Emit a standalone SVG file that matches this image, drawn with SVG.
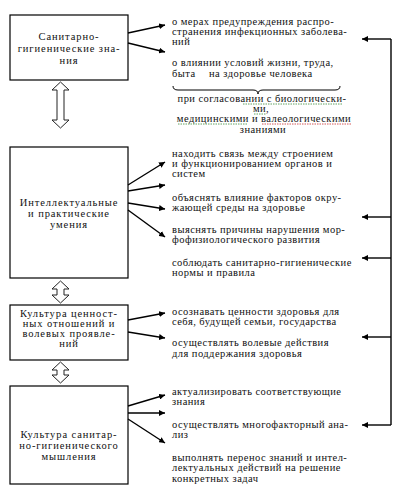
<svg xmlns="http://www.w3.org/2000/svg" width="410" height="496" viewBox="0 0 410 496">
<style>
.box{fill:#fff;stroke:#000;stroke-width:1.2}
.lbl{font-size:10.5px;fill:#111;text-anchor:middle;letter-spacing:0.9px}
.t{font-size:10.5px;fill:#111;letter-spacing:0.45px}
.tc{font-size:10.5px;fill:#111;text-anchor:middle;letter-spacing:0.45px}
.ln{fill:none;stroke:#000;stroke-width:1.4}
.dbl{fill:#fff;stroke:#222;stroke-width:1}
.brace{fill:none;stroke:#000;stroke-width:1}
.sq{fill:none;stroke-width:0.8;stroke-dasharray:1.5 1}
</style>
<defs>
<marker id="ah" viewBox="0 0 10 10" refX="10" refY="5" markerWidth="6" markerHeight="6" orient="auto" markerUnits="userSpaceOnUse">
<path d="M0,0 L10,5 L0,10 z" fill="#000"/>
</marker>
<marker id="ah2" viewBox="0 0 10 10" refX="10" refY="5" markerWidth="7" markerHeight="6" orient="auto" markerUnits="userSpaceOnUse">
<path d="M0,0 L10,5 L0,10 z" fill="#000"/>
</marker>
</defs>

<g font-family="Liberation Serif, Times New Roman, DejaVu Serif, serif">
<g id="node-sanitary-knowledge">
<rect class="box" x="10" y="15" width="118" height="65"/>
<text class="lbl" x="69" y="40">Санитарно-</text>
<text class="lbl" x="69" y="52">гигиенические  зна-</text>
<text class="lbl" x="69" y="64">ния</text>
</g>

<g id="node-intellectual-skills">
<rect class="box" x="10" y="147" width="118" height="131"/>
<text class="lbl" x="69" y="206">Интеллектуальные</text>
<text class="lbl" x="69" y="217">и практические</text>
<text class="lbl" x="69" y="228">умения</text>
</g>

<g id="node-value-culture">
<rect class="box" x="10" y="305" width="118" height="55"/>
<text class="lbl" x="69" y="317">Культура ценност-</text>
<text class="lbl" x="69" y="327">ных отношений и</text>
<text class="lbl" x="69" y="337">волевых проявле-</text>
<text class="lbl" x="69" y="347">ний</text>
</g>

<g id="node-thinking-culture">
<rect class="box" x="10" y="386" width="118" height="98"/>
<text class="lbl" x="69" y="438">Культура санитар-</text>
<text class="lbl" x="69" y="449">но-гигиенического</text>
<text class="lbl" x="69" y="460">мышления</text>
</g>

<g id="node-knowledge-items">
<text class="t" x="172" y="25">о мерах предупреждения распро-</text>
<text class="t" x="172" y="35">странения инфекционных заболева-</text>
<text class="t" x="172" y="45">ний</text>
<text class="t" x="172" y="66">о влиянии условий жизни, труда,</text>
<text class="t" x="172" y="77">быта</text>
<text class="t" x="209" y="77">на здоровье человека</text>
<path class="brace" d="M173,86 Q173,90 178,90 L253,90 Q258,90 258,94 Q258,90 263,90 L335,90 Q340,90 340,86"/>
<text class="tc" x="262" y="102">при согласовании с биологически-</text>
<text class="tc" x="261" y="112">ми,</text>
<text class="tc" x="264" y="122">медицинскими и валеологическими</text>
<text class="tc" x="263" y="133">знаниями</text>
<path class="sq" stroke="#3a8a3a" d="M243,104 L343,104 M254,114 L266,114 M178,124 L248,124"/>
<path class="sq" stroke="#c83030" d="M262,124 L352,124"/>
</g>

<g id="node-skill-items">
<text class="t" x="172" y="157">находить связь между строением</text>
<text class="t" x="172" y="167">и функционированием органов и</text>
<text class="t" x="172" y="177">систем</text>
<text class="t" x="172" y="201">объяснять влияние факторов окру-</text>
<text class="t" x="172" y="211">жающей среды на здоровье</text>
<text class="t" x="172" y="233">выяснять причины нарушения мор-</text>
<text class="t" x="172" y="243">фофизиологического развития</text>
<text class="t" x="172" y="266">соблюдать санитарно-гигиенические</text>
<text class="t" x="172" y="276">нормы и правила</text>
</g>

<g id="node-value-items">
<text class="t" x="172" y="315">осознавать ценности здоровья для</text>
<text class="t" x="172" y="325">себя, будущей семьи, государства</text>
<text class="t" x="172" y="346">осуществлять волевые  действия</text>
<text class="t" x="172" y="357">для поддержания здоровья</text>
</g>

<g id="node-thinking-items">
<text class="t" x="172" y="395">актуализировать соответствующие</text>
<text class="t" x="172" y="405">знания</text>
<text class="t" x="172" y="428">осуществлять многофакторный ана-</text>
<text class="t" x="172" y="438">лиз</text>
<text class="t" x="172" y="461">выполнять перенос знаний и интел-</text>
<text class="t" x="172" y="471">лектуальных действий на  решение</text>
<text class="t" x="172" y="482">конкретных задач</text>
</g>
</g>

<g id="connectors">
<polygon class="dbl" points="60.5,82 69,90 64,90 64,120 69,120 60.5,128 52,120 57,120 57,90 52,90"/>
<polygon class="dbl" points="60.5,281 69,289 64,289 64,295 69,295 60.5,303 52,295 57,295 57,289 52,289"/>
<polygon class="dbl" points="60.5,362 69,370 64,370 64,375 69,375 60.5,383 52,375 57,375 57,370 52,370"/>

<line class="ln" x1="128" y1="33" x2="165" y2="25" marker-end="url(#ah)"/>
<line class="ln" x1="128" y1="43" x2="165" y2="52" marker-end="url(#ah)"/>

<line class="ln" x1="128" y1="185" x2="165" y2="162" marker-end="url(#ah)"/>
<line class="ln" x1="128" y1="191" x2="165" y2="185" marker-end="url(#ah)"/>
<line class="ln" x1="128" y1="203" x2="165" y2="209" marker-end="url(#ah)"/>
<line class="ln" x1="128" y1="210" x2="165" y2="237" marker-end="url(#ah)"/>

<line class="ln" x1="128" y1="320" x2="165" y2="313" marker-end="url(#ah)"/>
<line class="ln" x1="128" y1="332" x2="165" y2="338" marker-end="url(#ah)"/>

<line class="ln" x1="128" y1="406" x2="165" y2="395" marker-end="url(#ah)"/>
<line class="ln" x1="128" y1="413" x2="165" y2="413" marker-end="url(#ah)"/>
<line class="ln" x1="128" y1="419" x2="165" y2="443" marker-end="url(#ah)"/>

<path class="ln" d="M391,39 L391,425"/>
<line class="ln" x1="391" y1="39" x2="362" y2="39" marker-end="url(#ah2)"/>
<line class="ln" x1="391" y1="217" x2="362" y2="217" marker-end="url(#ah2)"/>
<line class="ln" x1="391" y1="258" x2="362" y2="258" marker-end="url(#ah2)"/>
<line class="ln" x1="391" y1="337" x2="362" y2="337" marker-end="url(#ah2)"/>
<line class="ln" x1="391" y1="425" x2="362" y2="425" marker-end="url(#ah2)"/>
</g>
</svg>
